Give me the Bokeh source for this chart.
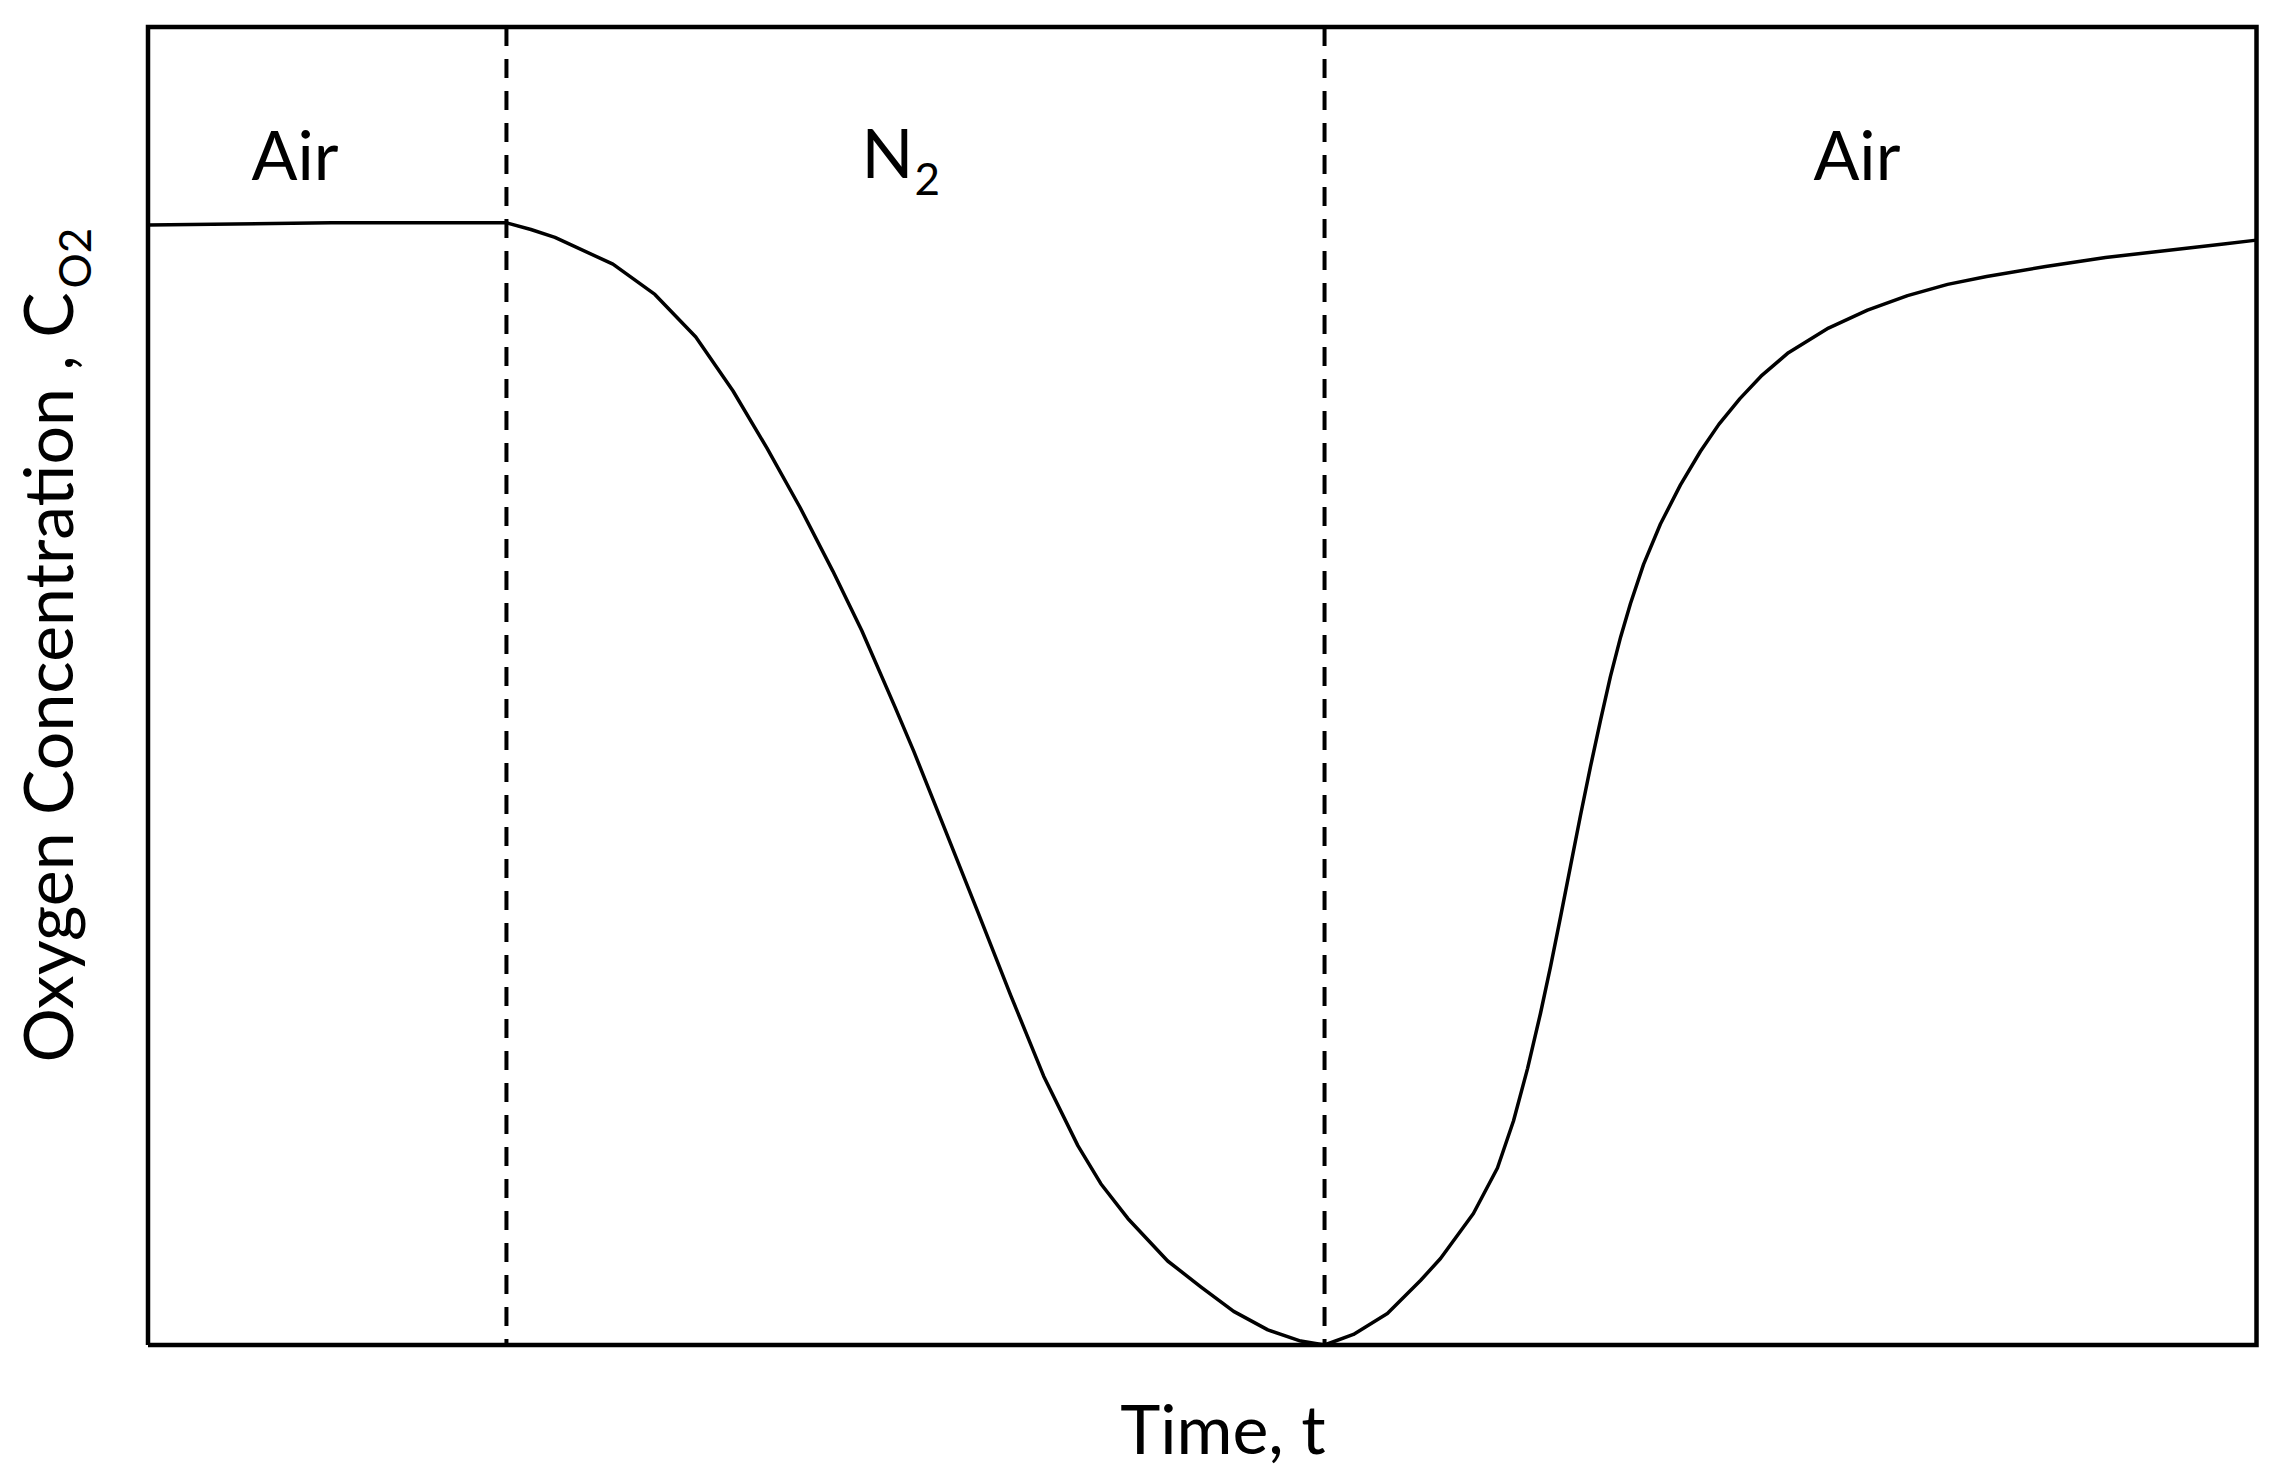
import math
from bokeh.plotting import figure
from bokeh.models import Range1d, Label
from bokeh.embed import file_html
from bokeh.resources import INLINE

# ---- data (time in arbitrary units, concentration normalised to the air level) ----
time_t = [0.000, 0.868, 1.700, 1.816, 1.930, 2.205, 2.404, 2.598, 2.774, 2.935,
          3.092, 3.248, 3.385, 3.542, 3.632, 3.774, 3.935, 4.092, 4.248, 4.410,
          4.519, 4.647, 4.836, 4.993, 5.149, 5.311, 5.467, 5.580, 5.717, 5.878,
          6.035, 6.130, 6.286, 6.400, 6.476, 6.543, 6.604, 6.652, 6.699, 6.747,
          6.794, 6.842, 6.889, 6.936, 6.984, 7.031, 7.093, 7.173, 7.268, 7.363,
          7.450, 7.550, 7.650, 7.780, 7.970, 8.155, 8.345, 8.535, 8.720, 9.000,
          9.284, 9.564, 9.844, 10.000]
conc_o2 = [1.000, 1.002, 1.002, 0.996, 0.989, 0.965, 0.938, 0.900, 0.852, 0.801,
           0.748, 0.691, 0.638, 0.570, 0.530, 0.463, 0.387, 0.312, 0.240, 0.178,
           0.144, 0.113, 0.075, 0.052, 0.030, 0.0135, 0.0035, 0.000, 0.0094, 0.0281,
           0.0576, 0.0772, 0.1174, 0.158, 0.200, 0.247, 0.296, 0.338, 0.382, 0.428,
           0.473, 0.517, 0.558, 0.597, 0.632, 0.662, 0.697, 0.733, 0.768, 0.798,
           0.822, 0.845, 0.865, 0.886, 0.908, 0.924, 0.937, 0.947, 0.954, 0.963,
           0.971, 0.977, 0.983, 0.9865]
switch_times = [1.700, 5.580]
phase_names = ["Air", "N", "Air"]
phase_sub = ["", "2", ""]
x_title = "Time, t"
y_title = "Oxygen Concentration , C"
y_title_sub = "O2"

# axis limits of the drawn box
T_MIN, T_MAX = 0.0, 10.0
C_MIN, C_MAX = 0.0, 1.1768

FONT = "Lato"
W, H = 2266, 1472

p = figure(width=W, height=H, output_backend="svg", toolbar_location=None,
           x_range=Range1d(-0.69955, 10.0474), y_range=Range1d(-0.11384, 1.20045),
           min_border_left=0, min_border_right=0, min_border_top=0,
           min_border_bottom=0)
p.xaxis.visible = False
p.yaxis.visible = False
p.grid.visible = False
p.outline_line_color = None
p.background_fill_color = "white"
p.border_fill_color = "white"

# plot box
p.line([T_MIN, T_MAX, T_MAX, T_MIN, T_MIN], [C_MIN, C_MIN, C_MAX, C_MAX, C_MIN],
       line_color="black", line_width=4.5, line_join="miter")

# gas switch markers
p.segment(x0=switch_times, y0=[C_MAX] * len(switch_times),
          x1=switch_times, y1=[C_MIN] * len(switch_times),
          line_color="black", line_width=4, line_dash="19 13")

p.line(time_t, conc_o2, line_color="black", line_width=3.5, line_join="round")

# phase labels
lab_pos = [(0.697, 1.0642, "center"), (3.630, 1.0660, "right"), (8.105, 1.0642, "center")]
for name, sub, (lx, ly, al) in zip(phase_names, phase_sub, lab_pos):
    p.add_layout(Label(x=lx, y=ly, text=name, text_align=al, text_baseline="alphabetic",
                       text_font=FONT, text_font_size="68px", text_color="black"))
    if sub:
        p.add_layout(Label(x=lx + 0.005, y=1.0407, text=sub, text_align="left",
                           text_baseline="alphabetic", text_font=FONT,
                           text_font_size="44px", text_color="black"))

# axis titles
p.add_layout(Label(x=5.098, y=-0.0733, text=x_title, text_align="center",
                   text_baseline="alphabetic", text_font=FONT, text_font_size="68px",
                   text_color="black"))
p.add_layout(Label(x=-0.4837, y=0.2522, text=y_title, angle=math.pi / 2,
                   text_align="left", text_baseline="alphabetic", text_font=FONT,
                   text_font_size="68px", text_color="black"))
p.add_layout(Label(x=-0.3486, y=0.9433, text=y_title_sub, angle=math.pi / 2,
                   text_align="left", text_baseline="alphabetic", text_font=FONT,
                   text_font_size="44px", text_color="black"))

open("out.html", "w").write(file_html(p, INLINE))
